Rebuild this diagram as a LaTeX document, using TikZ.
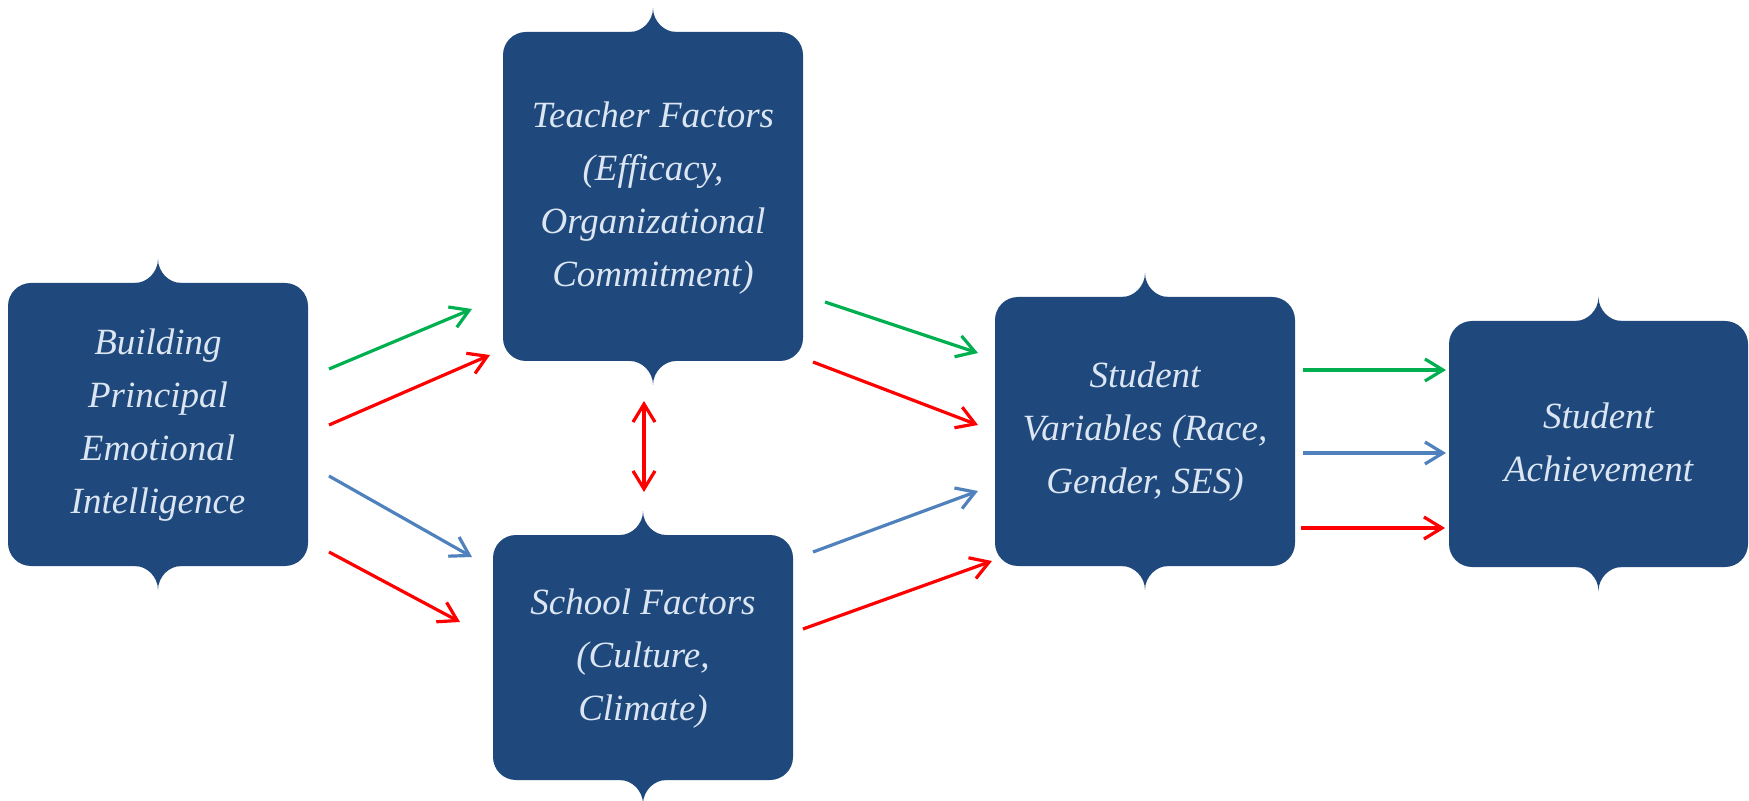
\documentclass[tikz,border=0pt]{standalone}
\usepackage{fontspec}
\setmainfont{Liberation Serif}
\usetikzlibrary{arrows.meta}
\definecolor{boxblue}{HTML}{1F497D}
\definecolor{txtblue}{HTML}{DCE6F2}
\definecolor{agreen}{HTML}{00B050}
\definecolor{ablue}{HTML}{4F81BD}
\definecolor{ared}{HTML}{FF0000}
\tikzset{
  boxst/.style={fill=boxblue, draw=none, rounded corners=11.5pt, inner sep=0pt, outer sep=0pt},
  lbl/.style={text=txtblue, align=center, inner sep=0pt, font=\fontsize{18.5pt}{26.5pt}\selectfont\itshape},
  arr/.style={line width=1.6pt, -{Straight Barb[length=9pt,width=11pt,line width=1.6pt]}},
  darr/.style={line width=1.6pt, {Straight Barb[length=9pt,width=11pt,line width=1.6pt]}-{Straight Barb[length=9pt,width=11pt,line width=1.6pt]}}
}
\newcommand\bracedbox[5]{%
  \node[boxst, minimum width=#4*0.5pt, minimum height=#5*0.5pt] (#1) at (#2,#3) {};
  \fill[boxblue] ([xshift=-11.5pt,yshift=-1pt]#1.north) -- ([xshift=-11.5pt]#1.north)
    .. controls +(6pt,0) and +(0,-6.5pt) .. ([yshift=12pt]#1.north)
    .. controls +(0,-6.5pt) and +(-6pt,0) .. ([xshift=11.5pt]#1.north)
    -- ([xshift=11.5pt,yshift=-1pt]#1.north) -- cycle;
  \fill[boxblue] ([xshift=-11.5pt,yshift=1pt]#1.south) -- ([xshift=-11.5pt]#1.south)
    .. controls +(6pt,0) and +(0,6.5pt) .. ([yshift=-12pt]#1.south)
    .. controls +(0,6.5pt) and +(-6pt,0) .. ([xshift=11.5pt]#1.south)
    -- ([xshift=11.5pt,yshift=1pt]#1.south) -- cycle;
}
\begin{document}
\begin{tikzpicture}[x=0.5pt,y=-0.5pt]
\useasboundingbox (0,0) rectangle (1749,801);
% boxes
\bracedbox{bpei}{158}{424.5}{300}{283}
\bracedbox{tf}{653}{196.5}{300}{329}
\bracedbox{sf}{643}{657.5}{300}{245}
\bracedbox{sv}{1145}{431.5}{300}{269}
\bracedbox{sa}{1598.5}{444}{299}{246}
% labels
\node[lbl] (bpeiT) at (158,425) {Building\\Principal\\Emotional\\Intelligence};
\node[lbl] (tfT) at (653,198) {Teacher Factors\\(Efficacy,\\Organizational\\Commitment)};
\node[lbl] (sfT) at (643,659) {School Factors\\(Culture,\\Climate)};
\node[lbl] (svT) at (1145,432) {Student\\Variables (Race,\\Gender, SES)};
\node[lbl] (saT) at (1598.5,442) {Student\\Achievement};
% arrow end points
\coordinate (g1s) at (329,369); \coordinate (g1e) at (472,309);
\coordinate (r1s) at (329,425); \coordinate (r1e) at (490,355);
\coordinate (b1s) at (329,476); \coordinate (b1e) at (472,557);
\coordinate (r2s) at (329,552); \coordinate (r2e) at (460,622);
\coordinate (dts) at (644,401); \coordinate (dte) at (644,492);
\coordinate (g2s) at (825,302); \coordinate (g2e) at (978,353);
\coordinate (r3s) at (813,362); \coordinate (r3e) at (978,425);
\coordinate (b2s) at (813,552); \coordinate (b2e) at (978,491);
\coordinate (r4s) at (803,629); \coordinate (r4e) at (992,561);
\coordinate (g3s) at (1303,370); \coordinate (g3e) at (1446,370);
\coordinate (b3s) at (1303,453); \coordinate (b3e) at (1446,453);
\coordinate (r5s) at (1301,528); \coordinate (r5e) at (1445,528);
% arrows
\draw[arr, agreen] (g1s) -- (g1e);
\draw[arr, ared] (r1s) -- (r1e);
\draw[arr, ablue] (b1s) -- (b1e);
\draw[arr, ared] (r2s) -- (r2e);
\draw[darr, ared] (dts) -- (dte);
\draw[arr, agreen] (g2s) -- (g2e);
\draw[arr, ared] (r3s) -- (r3e);
\draw[arr, ablue] (b2s) -- (b2e);
\draw[arr, ared] (r4s) -- (r4e);
\draw[arr, agreen] (g3s) -- (g3e);
\draw[arr, ablue] (b3s) -- (b3e);
\draw[arr, ared] (r5s) -- (r5e);
\end{tikzpicture}
\end{document}
